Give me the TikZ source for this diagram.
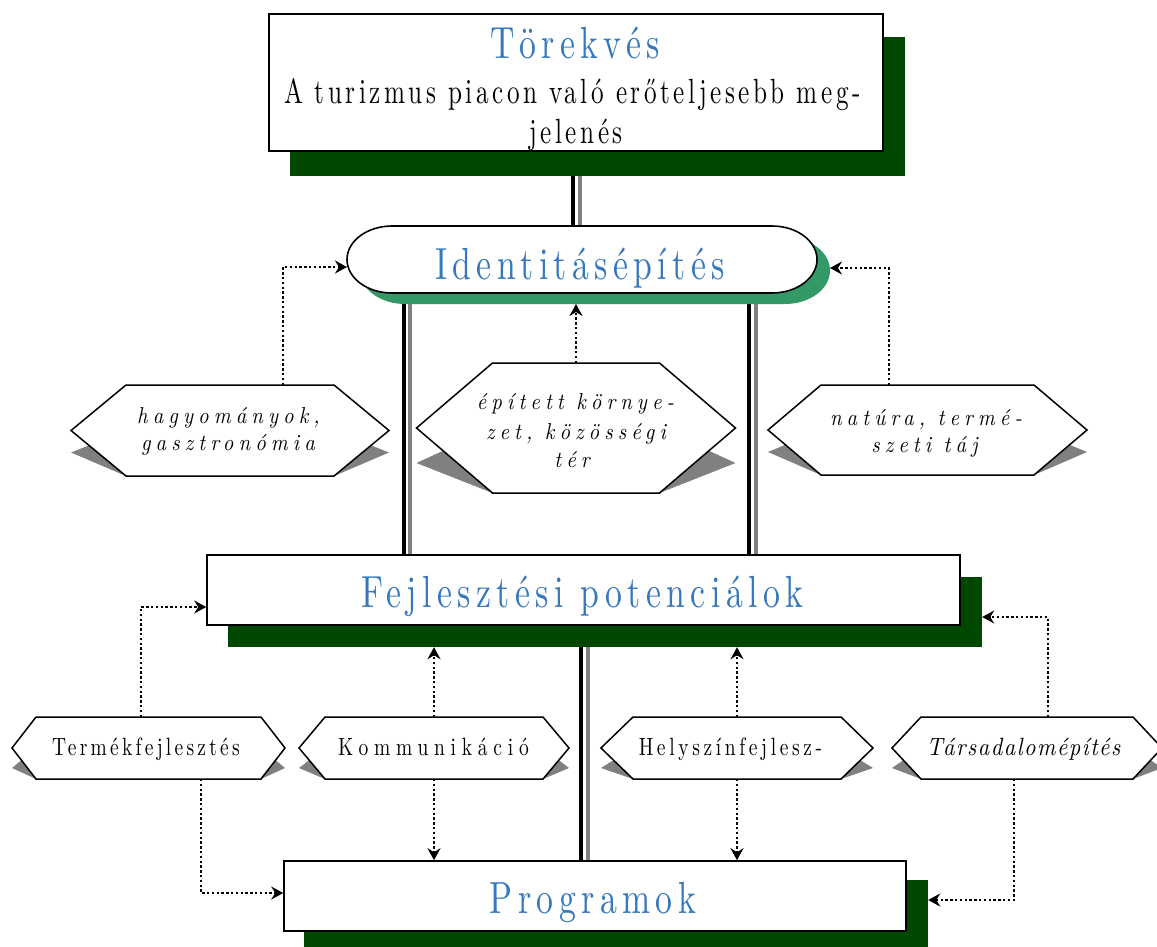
\documentclass[tikz,border=0pt]{standalone}
\usepackage{fontspec}
\setmainfont{lmroman10-regular.otf}[ItalicFont=lmroman10-italic.otf]
\newfontfamily\titlef{lmroman10-regular.otf}[FakeStretch=0.75,LetterSpace=12]
\newfontfamily\bodyf{lmroman10-regular.otf}[FakeStretch=0.72,LetterSpace=10.2]
\newfontfamily\hexitf{lmroman10-italic.otf}[FakeStretch=0.9,LetterSpace=22]
\newfontfamily\hexrmf{lmroman10-regular.otf}[FakeStretch=0.78]
\newfontfamily\hexitb{lmroman10-italic.otf}[FakeStretch=0.9,LetterSpace=6]
\usetikzlibrary{calc,arrows.meta,backgrounds}
\definecolor{dkgreen}{RGB}{0,72,0}
\definecolor{idgreen}{RGB}{51,153,102}
\definecolor{tblue}{RGB}{54,120,190}
\definecolor{shgray}{RGB}{128,128,128}
\newcommand\hexdraw[3]{%
  \fill[shgray] ($(#1.west)+(0,#3)$) -- ($(#1.south west)+(#2,0)$) -- ($(#1.south east)+(-#2,0)$) -- ($(#1.east)+(0,#3)$) -- ($(#1.east)+(-#2,0)$) -- ($(#1.west)+(#2,0)$) -- cycle;
  \draw[hexline] (#1.west) -- ($(#1.north west)+(#2,0)$) -- ($(#1.north east)+(-#2,0)$) -- (#1.east) -- ($(#1.south east)+(-#2,0)$) -- ($(#1.south west)+(#2,0)$) -- cycle;
}
\newcommand\stadium[2]{%
  \path[#2] ([xshift=45pt]#1.north west) -- ([xshift=-45pt]#1.north east) arc[start angle=90,end angle=-90,x radius=45pt,y radius=33.5pt] -- ([xshift=45pt]#1.south west) arc[start angle=270,end angle=90,x radius=45pt,y radius=33.5pt] -- cycle;
}
\begin{document}
\begin{tikzpicture}[x=1pt,y=-1pt,
  box/.style={draw=black,line width=1.6pt,fill=white,inner sep=0pt},
  shadowbox/.style={fill=dkgreen,inner sep=0pt},
  anchorbox/.style={inner sep=0pt,outer sep=0pt},
  hexline/.style={draw=black,line width=1.5pt,fill=white,line join=miter},
  blk/.style={line width=4pt,black},
  gry/.style={line width=4pt,shgray},
  dotarr/.style={line width=2.4pt,dash pattern=on 2.4pt off 2.4pt,-{Stealth[length=12pt,width=13pt,inset=4pt]}},
  ttl/.style={anchor=base,inner sep=0pt,text=tblue,font=\titlef\fontsize{45}{54}\selectfont},
  bdy/.style={anchor=base,inner sep=0pt,font=\bodyf\fontsize{35}{42}\selectfont},
  hexit/.style={anchor=base,inner sep=0pt,font=\hexitf\fontsize{23}{27}\selectfont},
  hexrm/.style={anchor=base,inner sep=0pt},
]
\useasboundingbox (0,0) rectangle (1157,946);

% shadows of boxes
\node[shadowbox,minimum width=615pt,minimum height=139pt] (torS) at (597.5,106.5) {};
\node[shadowbox,minimum width=754pt,minimum height=70pt] (fejS) at (605,612) {};
\node[shadowbox,minimum width=624pt,minimum height=70pt] (progS) at (616,915) {};
% boxes
\node[box,minimum width=614pt,minimum height=137pt] (tor) at (576,82.5) {};
\node[box,minimum width=753pt,minimum height=70pt] (fej) at (583.5,590) {};
\node[box,minimum width=622pt,minimum height=70pt] (prog) at (595,896) {};
% identity stadium
\node[anchorbox,minimum width=470pt,minimum height=67pt] (identS) at (595,270.5) {};
\node[anchorbox,minimum width=470pt,minimum height=67pt] (ident) at (582,259.5) {};
\stadium{identS}{fill=idgreen}
\stadium{ident}{fill=white,draw=black,line width=1.6pt}

% double connectors
\begin{pgfonlayer}{background}
\path ([xshift=-3pt]tor.south) coordinate (tb1) ([xshift=4pt]tor.south) coordinate (tg1);
\draw[blk] (tb1) -- (tb1 |- ident.north);
\draw[gry] (tg1) -- (tg1 |- ident.north);
\path ([xshift=57pt]ident.south west) coordinate (lb1) ([xshift=63pt]ident.south west) coordinate (lg1);
\draw[blk] (lb1) -- (lb1 |- fej.north);
\draw[gry] (lg1) -- (lg1 |- fej.north);
\path ([xshift=-68pt]ident.south east) coordinate (rb1) ([xshift=-61pt]ident.south east) coordinate (rg1);
\draw[blk] (rb1) -- (rb1 |- fej.north);
\draw[gry] (rg1) -- (rg1 |- fej.north);
\path ([xshift=-2.5pt]fej.south) coordinate (fb1) ([xshift=4.5pt]fej.south) coordinate (fg1);
\draw[blk] (fb1) -- (fb1 |- prog.north);
\draw[gry] (fg1) -- (fg1 |- prog.north);
\end{pgfonlayer}

% hexagons
\node[anchorbox,minimum width=318pt,minimum height=91pt] (hexL) at (230,430.5) {};
\node[anchorbox,minimum width=319pt,minimum height=130pt] (hexM) at (576,428) {};
\node[anchorbox,minimum width=319pt,minimum height=90pt] (hexR) at (927.5,430) {};
\node[anchorbox,minimum width=273pt,minimum height=62pt] (hexA) at (148.5,748) {};
\node[anchorbox,minimum width=270pt,minimum height=62pt] (hexB) at (434,748) {};
\node[anchorbox,minimum width=272pt,minimum height=62pt] (hexC) at (737,748) {};
\node[anchorbox,minimum width=270pt,minimum height=62pt] (hexD) at (1027,748) {};
\hexdraw{hexL}{55}{22}
\hexdraw{hexM}{76}{35}
\hexdraw{hexR}{53}{22}
\hexdraw{hexA}{24}{20}
\hexdraw{hexB}{26}{20}
\hexdraw{hexC}{32}{20}
\hexdraw{hexD}{29}{20}

% texts
\node[ttl] (torT) at (575,58) {Törekvés};
\node[bdy] (torL1) at (572.5,103) {A turizmus piacon való erőteljesebb meg-};
\node[bdy] (torL2) at (576,143) {jelenés};
\node[ttl] (identT) at (580,279) {Identitásépítés};
\node[ttl] (fejT) at (582.5,607) {Fejlesztési potenciálok};
\node[ttl] (progT) at (593,913) {Programok};
\node[hexit] (hL1) at (228.5,423) {hagyományok,};
\node[hexit] (hL2) at (228,450) {gasztronómia};
\node[hexit] (hM1) at (575.5,409) {épített környe-};
\node[hexit] (hM2) at (576,439) {zet, közösségi};
\node[hexit] (hM3) at (572,467) {tér};
\node[hexit] (hR1) at (926,425) {natúra, termé-};
\node[hexit] (hR2) at (924.5,452) {szeti táj};
\node[hexrm,font=\hexrmf\addfontfeatures{LetterSpace=13}\fontsize{25}{30}\selectfont] (tA) at (146,755) {Termékfejlesztés};
\node[hexrm,font=\hexrmf\addfontfeatures{LetterSpace=23}\fontsize{25}{30}\selectfont] (tB) at (433.5,755) {Kommunikáció};
\node[hexrm,font=\hexrmf\addfontfeatures{LetterSpace=14.5}\fontsize{25}{30}\selectfont] (tC) at (730.5,755) {Helyszínfejlesz-};
\node[hexrm,font=\hexitb\fontsize{25}{30}\selectfont] (tD) at (1023.5,755) {Társadalomépítés};

% dotted arrows
\draw[dotarr] ([xshift=53pt]hexL.north) |- ([yshift=-7.5pt]ident.west);
\draw[dotarr] (hexM.north) -- (hexM.north |- identS.south);
\draw[dotarr] ([xshift=-38.5pt]hexR.north) |- ([yshift=2.5pt]identS.east);
\draw[dotarr] ([xshift=-7.5pt]hexA.north) |- ([yshift=-17pt]fej.west);
\draw[dotarr] ([xshift=52.5pt]hexA.south) |- ([yshift=3pt]prog.west);
\draw[dotarr] (hexB.north) -- (hexB.north |- fejS.south);
\draw[dotarr] (hexB.south) -- (hexB.south |- prog.north);
\draw[dotarr] (hexC.north) -- (hexC.north |- fejS.south);
\draw[dotarr] (hexC.south) -- (hexC.south |- prog.north);
\draw[dotarr] ([xshift=21pt]hexD.north) |- ([yshift=-5pt]fejS.east);
\draw[dotarr] ([xshift=-13pt]hexD.south) |- ([yshift=15pt]progS.east);
\end{tikzpicture}
\end{document}
